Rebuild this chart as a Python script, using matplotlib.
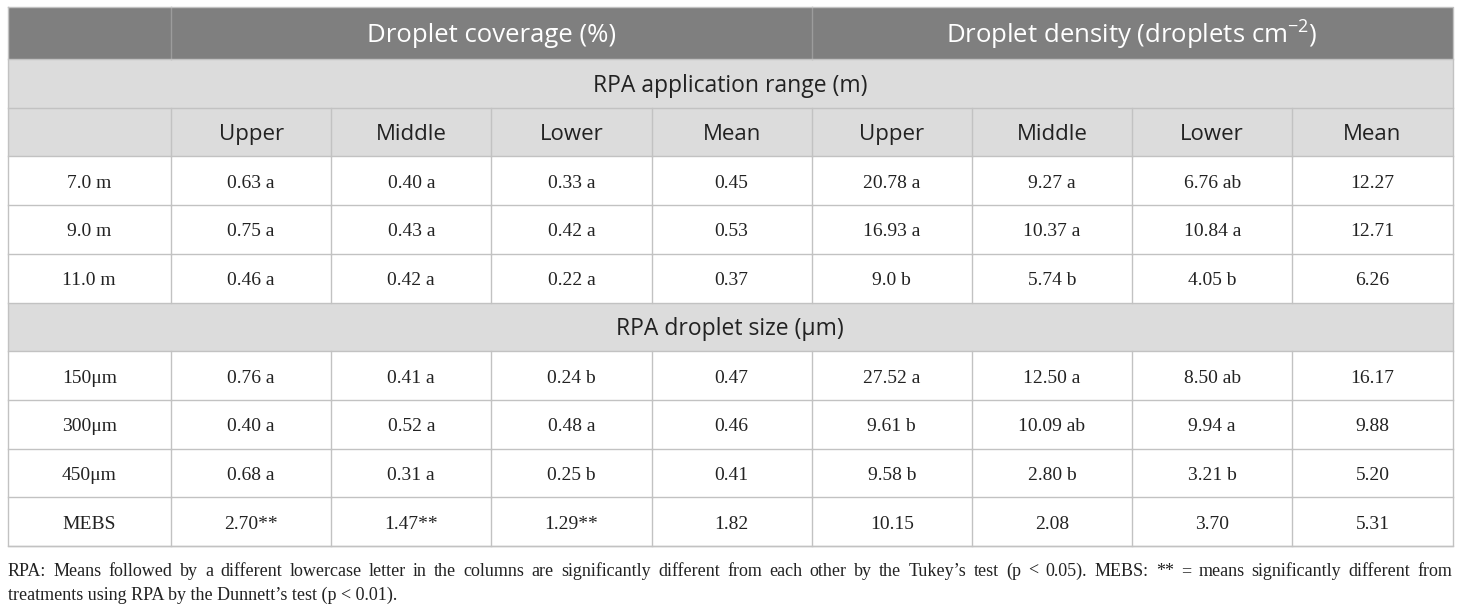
import matplotlib
matplotlib.use("Agg")
import matplotlib.pyplot as plt
from matplotlib.patches import Rectangle

# table contents
group_headers = ["Droplet coverage (%)", "Droplet density (droplets cm$^{-2}$)"]
sub_headers = ["Upper", "Middle", "Lower", "Mean"]
section_titles = ["RPA application range (m)", "RPA droplet size (\u03bcm)"]

range_labels = ["7.0 m", "9.0 m", "11.0 m"]
range_coverage = [["0.63 a", "0.40 a", "0.33 a", "0.45"],
                  ["0.75 a", "0.43 a", "0.42 a", "0.53"],
                  ["0.46 a", "0.42 a", "0.22 a", "0.37"]]
range_density = [["20.78 a", "9.27 a", "6.76 ab", "12.27"],
                 ["16.93 a", "10.37 a", "10.84 a", "12.71"],
                 ["9.0 b", "5.74 b", "4.05 b", "6.26"]]

size_labels = ["150\u03bcm", "300\u03bcm", "450\u03bcm", "MEBS"]
size_coverage = [["0.76 a", "0.41 a", "0.24 b", "0.47"],
                 ["0.40 a", "0.52 a", "0.48 a", "0.46"],
                 ["0.68 a", "0.31 a", "0.25 b", "0.41"],
                 ["2.70**", "1.47**", "1.29**", "1.82"]]
size_density = [["27.52 a", "12.50 a", "8.50 ab", "16.17"],
                ["9.61 b", "10.09 ab", "9.94 a", "9.88"],
                ["9.58 b", "2.80 b", "3.21 b", "5.20"],
                ["10.15", "2.08", "3.70", "5.31"]]

footnote = ("RPA: Means followed by a different lowercase letter in the columns are "
            "significantly different from each other by the Tukey\u2019s test (p < 0.05). "
            "MEBS: ** = means significantly different from")
footnote2 = "treatments using RPA by the Dunnett\u2019s test (p < 0.01)."

plt.rcParams["mathtext.fontset"] = "custom"
plt.rcParams["mathtext.rm"] = "Open Sans"
plt.rcParams["mathtext.it"] = "Open Sans"

DARK = "#7f7f7f"
LIGHT = "#dcdcdc"
LINE = "#c2c2c2"
TXT = "#222222"
SANS = "Open Sans"
SERIF = "Liberation Serif"

fig = plt.figure(figsize=(14.6, 6.08), dpi=100)
ax = fig.add_axes([0, 0, 1, 1])
ax.set_xlim(0, 1460)
ax.set_ylim(608, 0)
ax.axis("off")

left, right = 7.5, 1452.5
first_w = 163.5
col_w = (right - left - first_w) / 8
xs = [left] + [left + first_w + i * col_w for i in range(9)]
top = 7
head_h = 52
row_h = 48.7
n_rows = 2 + 1 + len(range_labels) + 1 + len(size_labels)
ys = [top, top + head_h] + [top + head_h + row_h * (i + 1) for i in range(n_rows - 1)]

def cell_text(x, y, s, **kw):
    # small nudge down so glyphs sit like the original
    ax.text(x, y + 2.5, s, ha="center", va="center", **kw)

# header row
ax.add_patch(Rectangle((left, ys[0]), right - left, ys[1] - ys[0], fc=DARK, ec="none"))
for k, h in enumerate(group_headers):
    x0, x1 = xs[1 + 4 * k], xs[5 + 4 * k]
    cell_text((x0 + x1) / 2, (ys[0] + ys[1]) / 2, h, family=SANS, fontsize=18.5, color="white")
for k in [1, 5]:
    ax.plot([xs[k], xs[k]], [ys[0], ys[1]], color="#9c9c9c", lw=1)

row = 1
def section(title, row):
    ax.add_patch(Rectangle((left, ys[row]), right - left, ys[row + 1] - ys[row], fc=LIGHT, ec="none"))
    cell_text((left + right) / 2, (ys[row] + ys[row + 1]) / 2, title, family=SANS, fontsize=16.5, color=TXT)

section(section_titles[0], row)
row += 1
ax.add_patch(Rectangle((left, ys[row]), right - left, ys[row + 1] - ys[row], fc=LIGHT, ec="none"))
for j, h in enumerate(sub_headers * 2):
    cell_text((xs[j + 1] + xs[j + 2]) / 2, (ys[row] + ys[row + 1]) / 2, h,
              family=SANS, fontsize=16, color=TXT)
for k in range(1, 9):
    ax.plot([xs[k], xs[k]], [ys[row], ys[row + 1]], color=LINE, lw=1)
row += 1

def data_rows(labels, cov, dens, row):
    for i, lab in enumerate(labels):
        yc = (ys[row] + ys[row + 1]) / 2
        cell_text((xs[0] + xs[1]) / 2, yc, lab, family=SERIF, fontsize=14, color=TXT)
        vals = cov[i] + dens[i]
        for j, v in enumerate(vals):
            cell_text((xs[j + 1] + xs[j + 2]) / 2, yc, v, family=SERIF, fontsize=14, color=TXT)
        for k in range(1, 9):
            ax.plot([xs[k], xs[k]], [ys[row], ys[row + 1]], color=LINE, lw=1)
        row += 1
    return row

row = data_rows(range_labels, range_coverage, range_density, row)
section(section_titles[1], row)
row += 1
row = data_rows(size_labels, size_coverage, size_density, row)

# horizontal lines and outer border
for y in ys[1:]:
    ax.plot([left, right], [y, y], color=LINE, lw=1)
ax.plot([left, right, right, left, left], [ys[0], ys[0], ys[-1], ys[-1], ys[0]], color=LINE, lw=1)

# footnote, first line justified
fig.canvas.draw()
renderer = fig.canvas.get_renderer()
words = footnote.split(" ")
arts = [ax.text(0, 0, w, family=SERIF, fontsize=13, color=TXT, va="baseline") for w in words]
widths = [a.get_window_extent(renderer).width for a in arts]
gap = (right - left - sum(widths)) / (len(words) - 1)
x = left
y1 = ys[-1] + 30
for a, w in zip(arts, widths):
    a.set_position((x, y1))
    x += w + gap
ax.text(left, y1 + 23.5, footnote2, family=SERIF, fontsize=13, color=TXT, va="baseline")

fig.savefig("out.png", dpi=100)
